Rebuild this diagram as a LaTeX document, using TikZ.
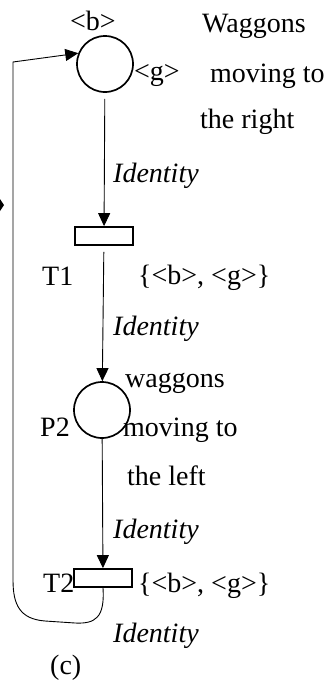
\documentclass[tikz,border=0pt]{standalone}
\usepackage{fontspec}
\setmainfont{Liberation Serif}
\usepackage{tikz}
\usetikzlibrary{arrows.meta, positioning, calc}

\begin{document}
\begin{tikzpicture}[
    x=1pt, y=-1pt,
    place/.style={circle, draw, line width=1.7pt, minimum size=56pt, inner sep=0pt},
    trans/.style={rectangle, draw, line width=1.7pt, minimum width=58pt, minimum height=18pt, inner sep=0pt},
    arc/.style={-{Triangle[length=13pt, width=12pt]}, line width=0.9pt},
    txt/.style={anchor=base west, inner sep=0pt, font=\fontsize{28}{32}\selectfont},
    inscr/.style={txt, font=\fontsize{28}{32}\selectfont\itshape}
]
\useasboundingbox (0,0) rectangle (327,686);

% Places and transitions
\node[place] (p1) at (105,64) {};
\node[trans] (t1) at (104,236) {};
\node[place] (p2) at (102,410) {};
\node[trans] (t2) at (103,578) {};

% Labels of P1
\node[txt] (tok1) at (70,30) {<b>};
\node[txt] (tok2) at (134,80) {<g>};
\node[txt] (right1) at (202,32) {Waggons};
\node[txt] (right2) at (210,82) {moving to};
\node[txt] (right3) at (200,128) {the right};

% Labels of T1 and P2
\node[txt] (t1name) at (42,285) {T1};
\node[txt] (t1guard) at (138,284) {\{<b>, <g>\}};
\node[txt] (left1) at (125,387) {waggons};
\node[txt] (p2name) at (40,436) {P2};
\node[txt] (left2) at (123,436) {moving to};
\node[txt] (left3) at (127,485) {the left};

% Labels of T2
\node[txt] (t2name) at (43,592) {T2};
\node[txt] (t2guard) at (138,592) {\{<b>, <g>\}};

% Arc inscriptions
\node[inscr] (id1) at (113,182) {Identity};
\node[inscr] (id2) at (113,335) {Identity};
\node[inscr] (id3) at (113,538) {Identity};
\node[inscr] (id4) at (113,642) {Identity};
\node[txt] (caption) at (50,674) {(c)};

% Arcs
\draw[arc, shorten <=6pt] (p1) -- (t1);
\draw[arc, shorten <=6pt] (t1) -- (p2);
\draw[arc] (p2) -- (t2);
\draw[arc] (t2.south) .. controls (105,618) and (95,624) .. (75,623)
    -- (45,621) .. controls (20,619) and (13,605) .. (13,580)
    -- (13,62) -- (p1.158);

% Fragment at the left edge
\fill (0,199) -- (4,205) -- (0,211) -- cycle;
\end{tikzpicture}
\end{document}
